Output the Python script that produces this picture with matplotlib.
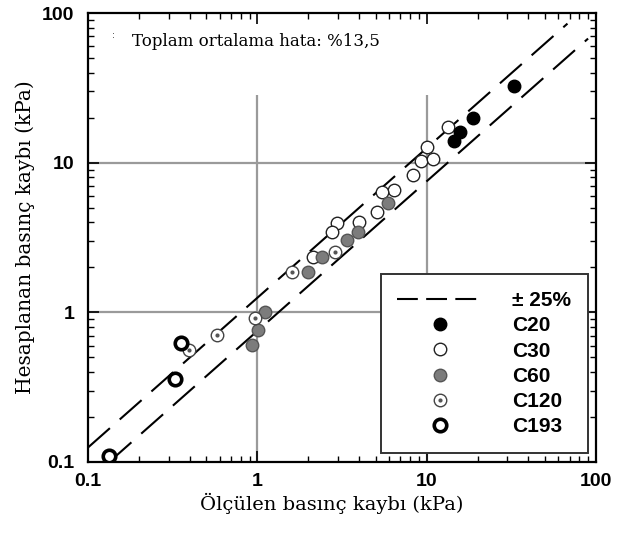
import numpy as np
import matplotlib
matplotlib.use("Agg")
import matplotlib.pyplot as plt
from matplotlib.lines import Line2D
from matplotlib.legend_handler import HandlerTuple

# ------------------------------------------------------------
# Data read off the reference (measured vs calculated, kPa)
# ------------------------------------------------------------
c20_x = [32.8, 18.8, 15.7, 14.5]
c20_y = [32.5, 19.9, 16.0, 14.0]

c30_x = [13.4, 10.0, 9.3, 10.9, 8.3, 6.4, 5.45, 5.1, 4.0, 2.96, 2.76, 2.13]
c30_y = [17.3, 12.7, 10.3, 10.6, 8.3, 6.6, 6.37, 4.7, 4.0, 3.95, 3.44, 2.34]

c60_x = [5.9, 3.94, 3.39, 2.41, 1.99, 1.11, 1.01, 0.93]
c60_y = [5.38, 3.44, 3.05, 2.34, 1.86, 1.0, 0.76, 0.605]

c120_x = [1.60, 2.88, 0.97, 0.578, 0.395]
c120_y = [1.86, 2.53, 0.918, 0.706, 0.561]

c193_x = [0.354, 0.327, 0.133]
c193_y = [0.625, 0.359, 0.110]

# +/- 25 % band
band_hi = 1.25
band_lo = 0.75
band_hi_x = [0.1, 68.0]
band_lo_x = [0.134, 90.0]

tick_vals = [0.1, 1, 10, 100]
tick_text = ["0.1", "1", "10", "100"]
grid_vals = [1, 10]

# ------------------------------------------------------------
fig = plt.figure(figsize=(6.2, 5.37), dpi=100)
ax = fig.add_axes([0.142, 0.1397, 0.819, 0.836])

ax.set_xscale("log")
ax.set_yscale("log")
ax.set_xlim(0.1, 100)
ax.set_ylim(0.1, 100)

# grid lines (only the two inner decades)
for g in grid_vals:
    ax.axhline(g, color="#9a9a9a", lw=1.6, zorder=1)
    ax.vlines(g, 0.1, 28.5, color="#9a9a9a", lw=1.6, zorder=1)

# band lines
dash = (14, 6.3)
bx = np.array(band_hi_x)
ax.plot(bx, bx * band_hi, color="black", lw=1.5, dashes=dash, zorder=2)
bx = np.array(band_lo_x)
ax.plot(bx, bx * band_lo, color="black", lw=1.5, dashes=dash, zorder=2)

ms = 9
ax.plot(c30_x, c30_y, "o", ms=ms, mfc="white", mec="#222222", mew=1.0, zorder=3)
ax.plot(c60_x, c60_y, "o", ms=ms, mfc="#7c7c7c", mec="#555555", mew=1.0, zorder=4)
ax.plot(c120_x, c120_y, "o", ms=ms, mfc="white", mec="#444444", mew=1.0, zorder=4)
ax.plot(c120_x, c120_y, "o", ms=3, mfc="#555555", mec="#555555", mew=0, zorder=5)
ax.plot(c20_x, c20_y, "o", ms=ms, mfc="black", mec="black", zorder=4)
ax.plot(c193_x, c193_y, "o", ms=9, mfc="white", mec="black", mew=2.6, zorder=4)

# axes styling
for s in ax.spines.values():
    s.set_linewidth(1.6)
    s.set_color("black")
ax.tick_params(which="both", direction="in", top=True, right=True, colors="black")
ax.tick_params(which="major", length=8, width=1.2)
ax.tick_params(which="minor", length=4, width=1.0)
ax.tick_params(axis="y", which="major", pad=10)
ax.tick_params(axis="x", which="major", pad=8)
ax.set_xticks(tick_vals)
ax.set_xticklabels(tick_text)
ax.set_yticks(tick_vals)
ax.set_yticklabels(tick_text)
for lab in ax.get_xticklabels() + ax.get_yticklabels():
    lab.set_fontfamily("Liberation Sans")
    lab.set_fontweight("bold")
    lab.set_fontsize(14)

ax.set_xlabel("Ölçülen basınç kaybı (kPa)", family="DejaVu Serif", fontsize=14)
ax.set_ylabel("Hesaplanan basınç kaybı (kPa)", family="DejaVu Serif", fontsize=14.5)
ax.xaxis.set_label_coords(0.48, -0.068)
ax.yaxis.set_label_coords(-0.105, 0.5)

ax.text(0.086, 0.937, "Toplam ortalama hata: %13,5", transform=ax.transAxes,
        family="DejaVu Serif", fontsize=12, va="center", ha="left")
ax.text(0.048, 0.95, ":", transform=ax.transAxes, fontsize=6, va="center")

# legend
h_band = Line2D([], [], color="black", lw=1.5, dashes=(10, 4))
h20 = Line2D([], [], ls="", marker="o", ms=ms, mfc="black", mec="black")
h30 = Line2D([], [], ls="", marker="o", ms=ms, mfc="white", mec="#222222")
h60 = Line2D([], [], ls="", marker="o", ms=ms, mfc="#7c7c7c", mec="#555555")
h120a = Line2D([], [], ls="", marker="o", ms=ms, mfc="white", mec="#444444")
h120b = Line2D([], [], ls="", marker="o", ms=3, mfc="#555555", mew=0)
h193 = Line2D([], [], ls="", marker="o", ms=9, mfc="white", mec="black", mew=2.6)

leg = ax.legend([h_band, h20, h30, h60, (h120a, h120b), h193],
                ["± 25%", "C20", "C30", "C60", "C120", "C193"],
                handler_map={tuple: HandlerTuple(ndivide=1, pad=0)},
                loc="lower right", bbox_to_anchor=(0.984, 0.02),
                prop={"family": "Liberation Sans", "weight": "bold", "size": 15},
                handlelength=4.1, handletextpad=1.4, labelspacing=0.3,
                borderpad=0.8, borderaxespad=0, fancybox=False, framealpha=1,
                edgecolor="#333333")
leg.get_frame().set_linewidth(1.4)
leg.set_zorder(10)

fig.savefig("out.png", dpi=100)
